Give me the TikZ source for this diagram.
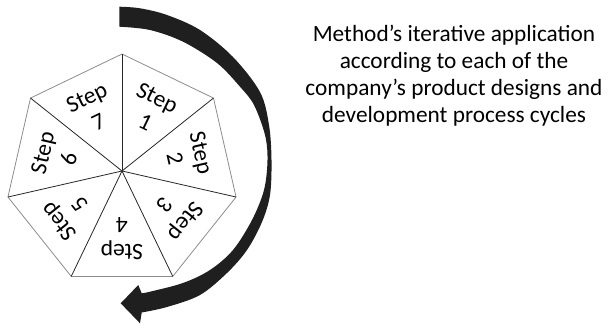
\documentclass[tikz,border=0pt]{standalone}
\usepackage{fontspec}
\setmainfont{Carlito}
\usetikzlibrary{calc}

\begin{document}
\begin{tikzpicture}[x=1pt,y=1pt,
        steplabel/.style={align=center,inner sep=0pt,font=\fontsize{23.5}{27}\selectfont},
        caption/.style={align=center,inner sep=0pt,font=\fontsize{23.3}{27}\selectfont},
        rim/.style={draw=black!45,line width=0.8pt},
        spoke/.style={draw=black!85,line width=0.8pt},
        cyclearrow/.style={fill=black!88}]

    % Dimensions
    \def\rad{117}
    \def\lrad{68}

    \useasboundingbox (-122,-155) rectangle (489,171);

    % Centre and corners of the heptagon
    \coordinate (c) at (0,0);
    \foreach \k in {0,...,6} {
        \coordinate (v\k) at ({90-\k*360/7}:\rad);
    }

    % Outer rim
    \draw[rim] (v0) -- (v1) -- (v2) -- (v3) -- (v4) -- (v5) -- (v6) -- cycle;

    % Spokes
    \foreach \k in {0,...,6} {
        \draw[spoke] (c) -- (v\k);
    }

    % Step labels, turned outwards
    \foreach \k in {1,...,7} {
        \pgfmathsetmacro{\ang}{90-(\k-0.5)*360/7}
        \pgfmathsetmacro{\tilt}{\ang-90}
        \node[steplabel,rotate=\tilt] (s\k) at (\ang:\lrad) {Step\\\k};
    }

    % Curved arrow round the right side
    \fill[cyclearrow]
        plot[smooth,tension=0.55] coordinates {(-2.7,164.3) (18,162.7) (45,156) (78,141) (111,114) (138,79)
            (147,46) (149.5,11) (148,-24) (140,-51) (125,-79) (105,-102) (78,-124) (45,-136) (19.7,-141.5)}
        -- (18,-152.3) -- (-1.3,-132.3) -- (16.3,-114)
        -- plot[smooth,tension=0.55] coordinates {(19.7,-122.3) (28,-120.7) (61,-112) (88,-99) (111,-79)
            (130,-49) (142,-19) (145.5,11) (143,36) (132,66) (118,84.3) (95,108) (61,129.3) (28,141) (-2.7,144.3)}
        -- cycle;

    % Caption
    \node[caption] (desc) at (332,95) {Method’s iterative application\\according to each of the\\company’s product designs and\\development process cycles};
\end{tikzpicture}
\end{document}
